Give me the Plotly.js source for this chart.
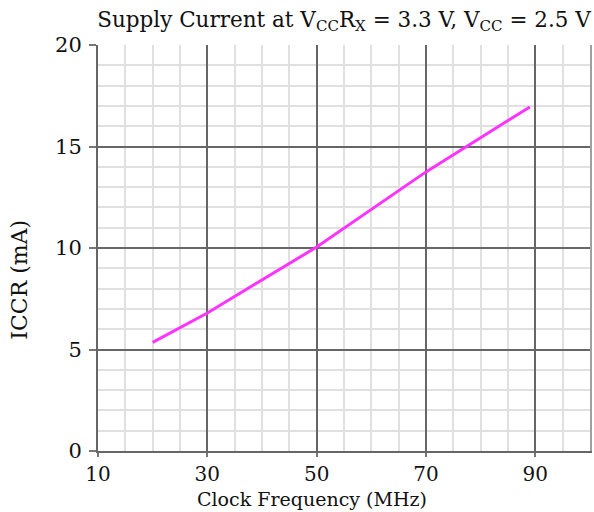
<!DOCTYPE html>
<html>
<head>
<meta charset="utf-8">
<script src="https://cdn.plot.ly/plotly-3.0.1.min.js"></script>
<style>html,body{margin:0;padding:0;background:#fff;}#chart{width:594px;height:512px;}</style>
</head>
<body>
<div id="chart"></div>
<script>
const freqMHz = [20, 30, 50, 70, 89];
const iccrMA = [5.35, 6.8, 10.05, 13.75, 16.95];
const xTicks = [10, 30, 50, 70, 90];
const yTicks = [0, 5, 10, 15, 20];
const yMajorGrid = [5, 10, 15];
const titleText = 'Supply Current at V<sub>CC</sub>R<sub>X</sub> = 3.3 V, V<sub>CC</sub> = 2.5 V';
const xTitle = 'Clock Frequency (MHz)';
const yTitle = 'ICCR (mA)';

const fontFam = '"DejaVu Serif", serif';
const txt = '#111';

const trace = {
  x: freqMHz, y: iccrMA, type: 'scatter', mode: 'lines',
  line: {color: '#ff33ff', width: 3}, hoverinfo: 'skip'
};
// invisible helper so the overlay grid axis gets drawn
const gridHelper = {
  x: [xTicks[0]], y: [yTicks[0]], yaxis: 'y2', type: 'scatter', mode: 'markers',
  marker: {size: 1, opacity: 0}, hoverinfo: 'skip', showlegend: false
};

const layout = {
  width: 594, height: 512,
  margin: {l: 98, r: 4, t: 45, b: 61},
  paper_bgcolor: '#fff', plot_bgcolor: '#fff',
  showlegend: false,
  font: {family: fontFam, color: txt, size: 18},
  title: {text: titleText, x: 0.5, xref: 'paper', xanchor: 'center', y: 0.962, yref: 'container', yanchor: 'middle',
          font: {family: fontFam, size: 21.5, color: txt}},
  xaxis: {
    range: [10, 100], tickvals: xTicks, ticktext: xTicks.map(String),
    showgrid: true, gridcolor: '#666', gridwidth: 2,
    minor: {dtick: 5, tick0: 10, showgrid: true, gridcolor: '#e0e0e0', gridwidth: 2, ticks: ''},
    ticks: 'outside', ticklen: 4, tickcolor: '#777', tickwidth: 2,
    showline: true, linecolor: '#666', linewidth: 2, mirror: false,
    zeroline: false, fixedrange: true,
    tickfont: {family: fontFam, size: 20, color: txt}
  },
  yaxis: {
    range: [0, 20], tickvals: yTicks, ticktext: yTicks.map(String),
    showgrid: false,
    minor: {dtick: 1, tick0: 0, showgrid: true, gridcolor: '#e0e0e0', gridwidth: 2, ticks: ''},
    ticks: 'outside', ticklen: 7, tickcolor: '#777', tickwidth: 2, ticklabelstandoff: 3,
    showline: true, linecolor: '#666', linewidth: 2, mirror: false,
    zeroline: false, fixedrange: true,
    tickfont: {family: fontFam, size: 21, color: txt}
  },
  yaxis2: {
    overlaying: 'y', side: 'right', range: [0, 20], tickvals: yMajorGrid,
    showgrid: true, gridcolor: '#666', gridwidth: 2,
    showticklabels: false, ticks: '',
    showline: true, linecolor: '#a0a0a0', linewidth: 2,
    zeroline: false, fixedrange: true
  },
  annotations: [
    {text: xTitle, xref: 'paper', yref: 'paper', x: 0.435, y: -0.118, xanchor: 'center', yanchor: 'middle',
     showarrow: false, font: {family: fontFam, size: 19, color: txt}},
    {text: yTitle, xref: 'paper', yref: 'paper', x: -0.1585, y: 0.422, xanchor: 'center', yanchor: 'middle',
     textangle: -90, showarrow: false, font: {family: fontFam, size: 22, color: txt}}
  ]
};

Plotly.newPlot('chart', [trace, gridHelper], layout, {displayModeBar: false, staticPlot: true});
</script>
</body>
</html>
